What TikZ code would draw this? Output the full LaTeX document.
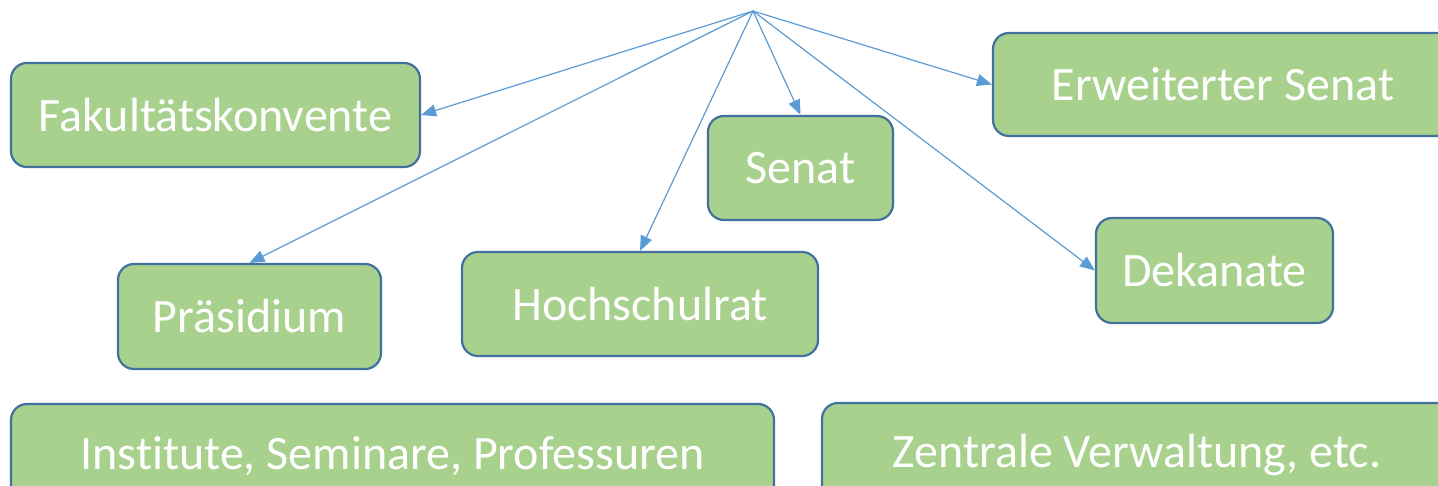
\documentclass[tikz,border=0pt]{standalone}
\usepackage{fontspec}
\setmainfont{Carlito}[Ligatures={NoCommon}]
\usetikzlibrary{arrows.meta}
\definecolor{boxfill}{HTML}{A9D18E}
\definecolor{boxline}{HTML}{41719C}
\definecolor{arrcol}{HTML}{5B9BD5}
\tikzset{
  box/.style={draw=boxline, line width=2.2pt, fill=boxfill, rounded corners=16pt,
    text=white, font=\fontsize{48}{57}\selectfont, inner sep=0pt},
  arr/.style={draw=arrcol, line width=1.2pt, -{Triangle[length=15pt,width=12pt]}}
}
\begin{document}
\begin{tikzpicture}[x=1pt,y=-1pt]
\useasboundingbox (0,0) rectangle (1438,485);
\clip (0,0) rectangle (1438,485);
\coordinate (apex) at (753,11);
\node[box, minimum width=409pt, minimum height=104pt] (fak) at (215.5,115) {Fakultätskonvente};
\node[box, minimum width=460pt, minimum height=103pt] (erw) at (1223,84.5) {Erweiterter Senat};
\node[box, minimum width=185pt, minimum height=104pt] (sen) at (800.5,168) {Senat};
\node[box, minimum width=237pt, minimum height=105pt] (dek) at (1214.5,270.5) {Dekanate};
\node[box, minimum width=263pt, minimum height=105pt] (pra) at (249.5,316.5) {Präsidium};
\node[box, minimum width=356pt, minimum height=104pt] (hoc) at (640,304) {Hochschulrat};
\node[box, minimum width=763pt, minimum height=104pt] (ins) at (392.5,456) {Institute, Seminare, Professuren};
\node[box, minimum width=630pt, minimum height=104pt] (zen) at (1137,455) {Zentrale Verwaltung, etc.};
\draw[arr] (apex) -- (fak.east);
\draw[arr] (apex) -- (pra.north);
\draw[arr] (apex) -- (hoc.north);
\draw[arr] (apex) -- (sen.north);
\draw[arr] (apex) -- (erw.west);
\draw[arr] (apex) -- (dek.west);
\end{tikzpicture}
\end{document}
